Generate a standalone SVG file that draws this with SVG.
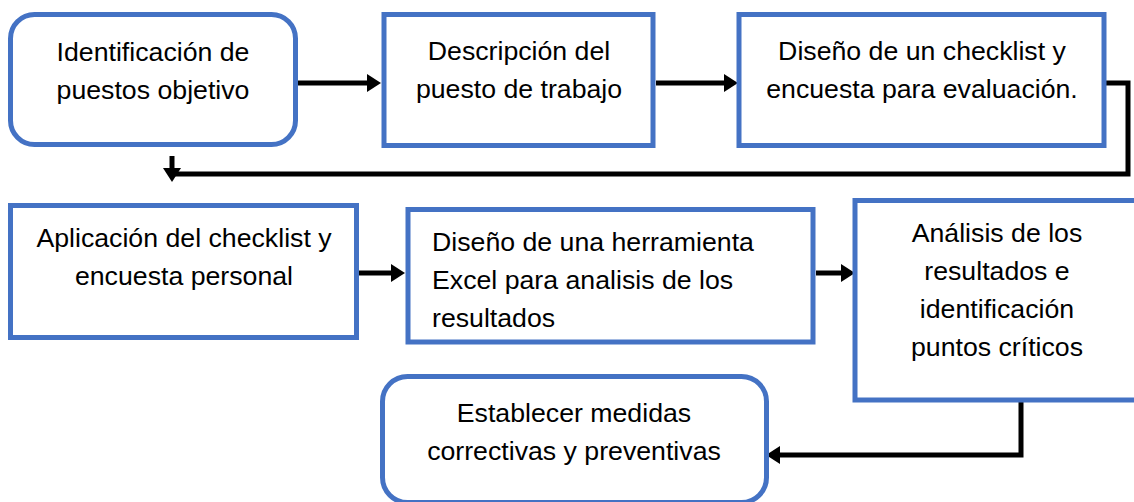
<svg xmlns="http://www.w3.org/2000/svg" width="1134" height="502" viewBox="0 0 1134 502">
<style>
.box{fill:#fff;stroke:#4472C4;stroke-width:5}
.t{font-family:"Liberation Sans",Arial,sans-serif;font-size:26.7px;fill:#000}
.c{text-anchor:middle}
.conn{fill:none;stroke:#000;stroke-width:5;stroke-linejoin:miter}
</style>
<defs>
<marker id="ah" markerUnits="userSpaceOnUse" markerWidth="14" markerHeight="18" refX="1" refY="9" orient="auto">
<path d="M0,0 L14,9 L0,18 z" fill="#000"/>
</marker>
</defs>
<rect width="1134" height="502" fill="#fff"/>
<g id="connectors">
<path class="conn" d="M298,83 H368" marker-end="url(#ah)"/>
<path class="conn" d="M656,83 H725" marker-end="url(#ah)"/>
<path class="conn" d="M1106,83 H1128 V174 H170"/>
<path class="conn" d="M172,156 V169" marker-end="url(#ah)"/>
<path class="conn" d="M359,273 H392" marker-end="url(#ah)"/>
<path class="conn" d="M816,273 H842" marker-end="url(#ah)"/>
<path class="conn" d="M1021,402 V455 H779" marker-end="url(#ah)"/>
</g>
<g id="n1">
<rect class="box" x="10.5" y="14.5" width="285" height="130" rx="24" ry="24"/>
<text class="t c" x="153" y="61">Identificación de</text>
<text class="t c" x="153" y="99">puestos objetivo</text>
</g>
<g id="n2">
<rect class="box" x="384" y="14.5" width="269" height="131"/>
<text class="t c" x="519" y="60">Descripción del</text>
<text class="t c" x="519" y="98">puesto de trabajo</text>
</g>
<g id="n3">
<rect class="box" x="739" y="14.5" width="365" height="131"/>
<text class="t c" x="922" y="60">Diseño de un checklist y</text>
<text class="t c" x="922" y="98">encuesta para evaluación.</text>
</g>
<g id="n4">
<rect class="box" x="10.5" y="205.5" width="346" height="132"/>
<text class="t c" x="184" y="247">Aplicación del checklist y</text>
<text class="t c" x="184" y="285">encuesta personal</text>
</g>
<g id="n5">
<rect class="box" x="408" y="209.5" width="405" height="132.5"/>
<text class="t" x="432" y="251">Diseño de una herramienta</text>
<text class="t" x="432" y="289">Excel para analisis de los</text>
<text class="t" x="432" y="327">resultados</text>
</g>
<g id="n6">
<rect class="box" x="855" y="200.5" width="283" height="199.5"/>
<text class="t c" x="997" y="242">Análisis de los</text>
<text class="t c" x="997" y="280">resultados e</text>
<text class="t c" x="997" y="318">identificación</text>
<text class="t c" x="997" y="356">puntos críticos</text>
</g>
<g id="n7">
<rect class="box" x="382.5" y="376.5" width="384" height="126" rx="25" ry="25"/>
<text class="t c" x="574" y="422">Establecer medidas</text>
<text class="t c" x="574" y="460">correctivas y preventivas</text>
</g>
</svg>
